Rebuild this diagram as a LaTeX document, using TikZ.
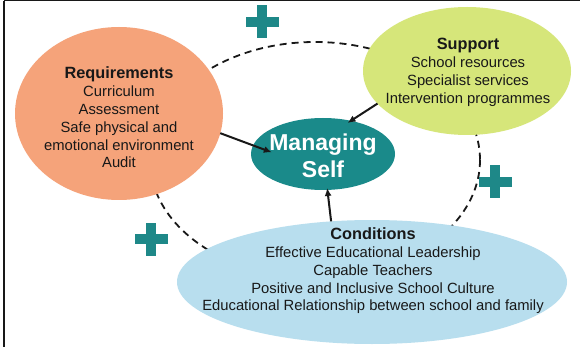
\documentclass[tikz,border=0pt]{standalone}
\usepackage{fontspec}
\setmainfont{Liberation Sans}
\usetikzlibrary{shapes.geometric,arrows.meta}
\definecolor{reqc}{RGB}{245,163,122}
\definecolor{supc}{RGB}{214,230,122}
\definecolor{manc}{RGB}{26,138,138}
\definecolor{condc}{RGB}{184,222,238}
\definecolor{plusc}{RGB}{30,136,136}
\definecolor{txtc}{RGB}{24,24,24}
\tikzset{
  ell/.style={ellipse, draw=none, inner sep=0pt, outer sep=0pt},
  txt/.style={inner sep=0pt, align=center, text=txtc,
    font=\fontsize{14.8}{17.8}\selectfont},
  arr/.style={draw=txtc, line width=2pt, -{Latex[length=8pt,width=7pt]}},
  loopline/.style={draw=txtc, line width=1.8pt, dash pattern=on 7pt off 5pt},
  plussign/.pic={\fill[plusc] (-16.5,-5) rectangle (16.5,5); \fill[plusc] (-5,-16.5) rectangle (5,16.5);}
}
\newcommand{\ttlx}[1]{{\fontsize{16.3}{17.8}\selectfont\bfseries #1}}
\begin{document}
\begin{tikzpicture}[x=1pt,y=-1pt]
\useasboundingbox (0,0) rectangle (580,347);
\fill[white] (0,0) rectangle (580,347);
\draw[txtc, line width=2pt] (3.5,347) -- (3.5,0.6);
\draw[txtc, line width=1pt] (3.5,0.5) -- (580,0.5);
\draw[loopline] (315,160) ellipse [x radius=165, y radius=118];
\pic at (262,22) {plussign};
\pic at (151,239) {plussign};
\pic at (495,182) {plussign};
\node[ell, fill=reqc, minimum width=208pt, minimum height=173pt] (req) at (119,113.5) {};
\node[txt] (reqt) at (119,117.5)
  {\ttlx{Requirements}\\Curriculum\\Assessment\\Safe physical and\\emotional environment\\Audit};
\node[ell, fill=supc, minimum width=208pt, minimum height=128pt] (sup) at (467,71) {};
\node[txt] (supt) at (468,72.5)
  {\ttlx{Support}\\School resources\\Specialist services\\Intervention programmes};
\node[ell, fill=condc, minimum width=390pt, minimum height=124pt] (cond) at (372,282) {};
\node[txt] (condt) at (373,271)
  {\ttlx{Conditions}\\Effective Educational Leadership\\Capable Teachers\\Positive and Inclusive School Culture\\Educational Relationship between school and family};
\node[ell, fill=manc, minimum width=144pt, minimum height=72pt] (man) at (323,154) {};
\node[txt, text=white, font=\fontsize{23}{27}\selectfont\bfseries] (mant) at (323,156) {Managing\\Self};
\draw[arr, shorten >=-20pt] (req.-11) -- (man.173);
\draw[arr, shorten >=-4pt] (sup.200) -- (man.50);
\draw[arr, shorten >=-2pt] (cond.124) -- (man.-83);
\end{tikzpicture}
\end{document}
